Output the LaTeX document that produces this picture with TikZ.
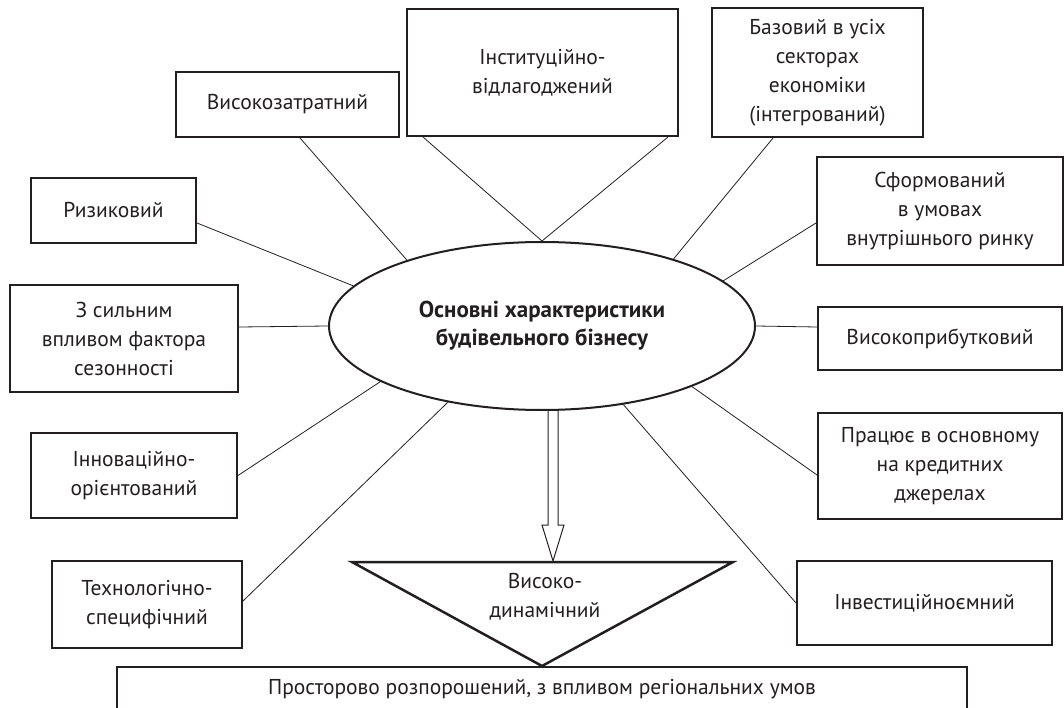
\documentclass[tikz,border=0pt]{standalone}
\usepackage{fontspec}
\setmainfont{PT Sans}
\usetikzlibrary{shapes.geometric,calc}
\definecolor{ink}{HTML}{231F20}
\tikzset{
  box/.style={draw=ink, line width=2pt, rectangle, inner sep=0pt, align=center, text=ink,
    font=\fontsize{21.5}{29}\selectfont},
  link/.style={draw=ink, line width=0.8pt},
}
\begin{document}
\begin{tikzpicture}[x=1pt,y=-1pt]
\useasboundingbox (0,0) rectangle (1064,708);
\clip (0,0) rectangle (1064,708);
% central ellipse
\node[ellipse, draw=ink, line width=2pt, minimum width=426pt, minimum height=168pt, inner sep=0pt,
  align=center, text=ink, font=\fontsize{23}{28}\selectfont\bfseries] (ell) at (542,326)
  {Основні характеристики\\будівельного бізнесу};
% boxes
\node[box, minimum width=223pt, minimum height=65pt] (vysz) at (287.5,104.5) {Високозатратний};
\node[box, minimum width=271pt, minimum height=127pt] (inst) at (542.5,72.5) {Інституційно-\\відлагоджений};
\node[box, minimum width=211pt, minimum height=129pt] (baz) at (817.5,72.5) {Базовий в усіх\\секторах\\економіки\\(інтегрований)};
\node[box, minimum width=165pt, minimum height=65pt] (ryz) at (113.5,210.5) {Ризиковий};
\node[box, minimum width=246pt, minimum height=108pt] (sform) at (940,211) {Сформований\\в умовах\\внутрішнього ринку};
\node[box, minimum width=228pt, minimum height=107pt] (zsyl) at (124,338.5) {З сильним\\впливом фактора\\сезонності};
\node[box, minimum width=244pt, minimum height=63pt] (vysp) at (940,338.5) {Високоприбутковий};
\node[box, minimum width=206pt, minimum height=85pt] (innov) at (134,475.5) {Інноваційно-\\орієнтований};
\node[box, minimum width=244pt, minimum height=106pt] (prac) at (940,466) {Працює в основному\\на кредитних\\джерелах};
\node[box, minimum width=190pt, minimum height=87pt] (tech) at (147,604.5) {Технологічно-\\специфічний};
\node[box, minimum width=255pt, minimum height=84pt] (inv) at (924.5,603) {Інвестиційноємний};
\node[box, minimum width=850pt, minimum height=44pt] (bot) at (542,689) {Просторово розпорошений, з впливом регіональних умов};
% triangle
\coordinate (tl) at (352,562);
\coordinate (tr) at (733,562);
\coordinate (tb) at (542,666);
\draw[draw=ink, line width=2.5pt, line join=miter] (tl) -- (tr) -- (tb) -- cycle;
\node[align=center, text=ink, font=\fontsize{21.5}{29}\selectfont, inner sep=0pt] (dyn) at (545,597) {Високо-\\динамічний};
% hollow arrow
\coordinate (a1) at (548,410);
\coordinate (a2) at (558,410);
\draw[draw=ink, line width=1pt, line join=miter] (a1) -- (548,525) -- (542,525) -- (553,561) -- (564,525) -- (558,525) -- (a2);
% connectors
\draw[link] ([yshift=-12.5pt]ryz.east) -- (ell.168.7);
\draw[link] ([xshift=12.5pt]vysz.south) -- (ell.154.6);
\draw[link] ([xshift=-119.5pt]inst.south) -- (ell.90);
\draw[link] ([xshift=125.5pt]inst.south) -- (ell.90);
\draw[link] ([xshift=-44.5pt]baz.south) -- (ell.27.6);
\draw[link] ([yshift=-12pt]sform.west) -- (ell.14.5);
\draw[link] ([yshift=11.5pt]vysp.west) -- (ell.0);
\draw[link] ([yshift=-9pt]prac.west) -- (ell.-22.7);
\draw[link] (inv.west) -- (ell.-44.3);
\draw[link] ([yshift=3.5pt]tech.east) -- (ell.-141.7);
\draw[link] (innov.east) -- (ell.199.9);
\draw[link] ([yshift=11.5pt]zsyl.east) -- (ell.180);
\end{tikzpicture}
\end{document}
